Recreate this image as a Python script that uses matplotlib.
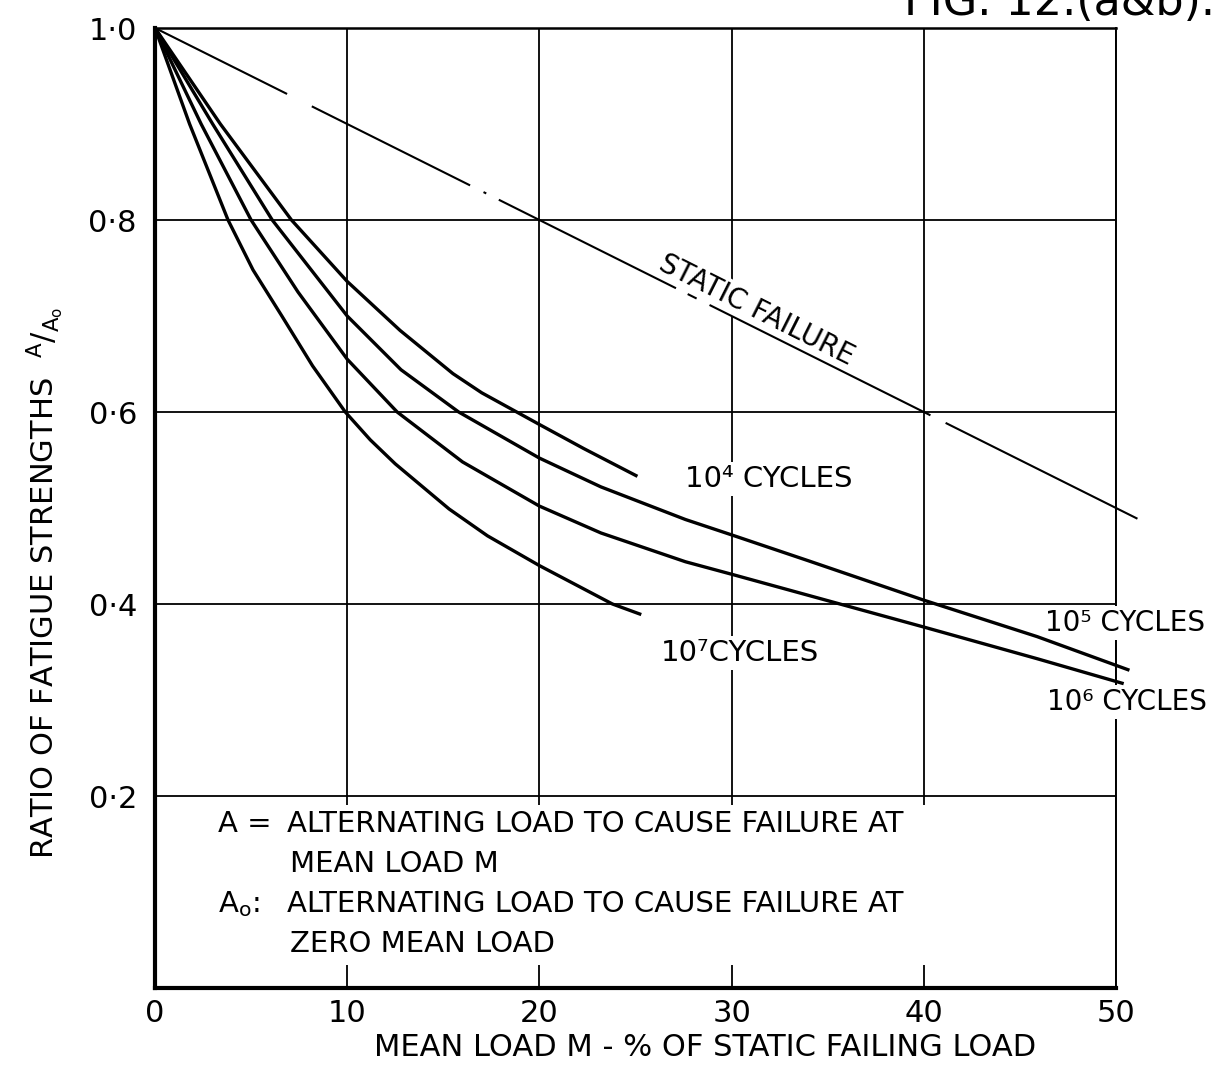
import matplotlib
matplotlib.use("Agg")
import matplotlib.pyplot as plt
from matplotlib.patches import Rectangle

plt.rcParams['font.family'] = ['DejaVu Sans']
plt.rcParams['mathtext.fontset'] = 'dejavusans'
plt.rcParams['lines.scale_dashes'] = False

# Mean load M (% of static failing load) against A/A0
static_x = [0, 51.25]
static_y = [1.0, 0.4875]

cyc4_x = [0, 3.4, 7.1, 10, 12.75, 15.5, 17, 20, 22.3, 25.1]
cyc4_y = [1.0, 0.9, 0.8, 0.736, 0.685, 0.64, 0.62, 0.587, 0.562, 0.533]

cyc5_x = [0, 3.0, 6.1, 10, 12.8, 15.8, 20, 23.2, 27.6, 30, 34, 40, 45.9, 50.7]
cyc5_y = [1.0, 0.9, 0.8, 0.70, 0.644, 0.6, 0.552, 0.522, 0.488, 0.472, 0.445, 0.404, 0.366, 0.331]

cyc6_x = [0, 2.4, 5.0, 7.44, 10, 12.6, 16, 20, 23.2, 27.6, 30, 34, 40, 45.9, 50.4]
cyc6_y = [1.0, 0.9, 0.8, 0.725, 0.655, 0.6, 0.548, 0.502, 0.474, 0.444, 0.431, 0.409, 0.376, 0.343, 0.317]

cyc7_x = [0, 1.8, 3.8, 5.1, 6.6, 8.2, 9.9, 11.2, 12.5, 15.3, 17.3, 20, 23.8, 25.3]
cyc7_y = [1.0, 0.9, 0.8, 0.748, 0.70, 0.648, 0.6, 0.571, 0.546, 0.499, 0.471, 0.44, 0.4, 0.389]

x_ticks = [0, 10, 20, 30, 40, 50]
x_labels = ['0', '10', '20', '30', '40', '50']
y_ticks = [0, 0.2, 0.4, 0.6, 0.8, 1.0]
y_labels = ['', '0·2', '0·4', '0·6', '0·8', '1·0']

fig = plt.figure(figsize=(12.29, 10.69), dpi=100)
ax = fig.add_axes([155 / 1229, 1 - 988 / 1069, 961 / 1229, 960 / 1069])

ax.set_xlim(0, 50)
ax.set_ylim(0, 1.0)
ax.set_xticks(x_ticks)
ax.set_xticklabels(x_labels, fontsize=22)
ax.set_yticks(y_ticks)
ax.set_yticklabels(y_labels, fontsize=22)
ax.tick_params(length=0)
ax.tick_params(axis='x', pad=8)
ax.tick_params(axis='y', pad=13)

ax.set_axisbelow(True)
ax.grid(True, color='black', lw=1.3)
ax.spines['left'].set_linewidth(3)
ax.spines['bottom'].set_linewidth(3)
ax.spines['top'].set_linewidth(1.8)
ax.spines['right'].set_linewidth(1.4)

# chain line for static failure
chain = (0, (106.3, 19.9, 127.4, 10.8, 2.2, 10.1, 142.6, 9.4, 7.2, 10.4,
             177.8, 12.2, 154.4, 400))
ax.plot(static_x, static_y, color='black', lw=1.5, linestyle=chain,
        clip_on=False, zorder=4)

for xs, ys in [(cyc4_x, cyc4_y), (cyc5_x, cyc5_y), (cyc6_x, cyc6_y), (cyc7_x, cyc7_y)]:
    ax.plot(xs, ys, color='black', lw=2.4, solid_capstyle='butt',
            solid_joinstyle='round', clip_on=False, zorder=4)

box = dict(facecolor='white', edgecolor='none', pad=2)
ax.text(31.3, 0.706, 'STATIC FAILURE', rotation=-26.7, rotation_mode='anchor',
        ha='center', va='center', fontsize=20, zorder=3, bbox=box)
ax.text(27.6, 0.530, '10⁴ CYCLES', ha='left', va='center', fontsize=21,
        zorder=3, bbox=box)
ax.text(26.3, 0.349, '10⁷CYCLES', ha='left', va='center', fontsize=21,
        zorder=3, bbox=box)
ax.text(46.3, 0.380, '10⁵ CYCLES', ha='left', va='center', fontsize=20,
        zorder=3, bbox=box, clip_on=False)
ax.text(46.4, 0.298, '10⁶ CYCLES', ha='left', va='center', fontsize=20,
        zorder=3, bbox=box, clip_on=False)

# key to the symbols
ax.add_patch(Rectangle((0.052, 0.024), 0.864, 0.167, transform=ax.transAxes,
                       facecolor='white', edgecolor='none', zorder=2))
key_size = 21
ax.text(3.28, 0.171, 'A =', ha='left', va='center', fontsize=key_size, zorder=3)
ax.text(6.87, 0.171, 'ALTERNATING LOAD TO CAUSE FAILURE AT', ha='left',
        va='center', fontsize=key_size, zorder=3)
ax.text(7.0, 0.129, 'MEAN LOAD M', ha='left', va='center', fontsize=key_size,
        zorder=3)
ax.text(3.28, 0.0875, r'$\mathrm{A_o}$:', ha='left', va='center',
        fontsize=key_size, zorder=3)
ax.text(6.87, 0.0875, 'ALTERNATING LOAD TO CAUSE FAILURE AT', ha='left',
        va='center', fontsize=key_size, zorder=3)
ax.text(7.0, 0.0458, 'ZERO MEAN LOAD', ha='left', va='center',
        fontsize=key_size, zorder=3)

ax.set_xlabel('MEAN LOAD M - % OF STATIC FAILING LOAD', fontsize=22,
              va='center', ha='center')
ax.xaxis.set_label_coords(0.572, -0.0615)
ax.set_ylabel(r'RATIO OF FATIGUE STRENGTHS  ${}^{\mathrm{A}}/{}_{\mathrm{A_o}}$',
              fontsize=22, va='center', ha='center')
ax.yaxis.set_label_coords(-0.1145, 0.422)

fig.text(1215 / 1229, 1 - 15 / 1069, 'FIG. 12.(a&b).', ha='right',
         va='baseline', fontsize=32)

fig.savefig('out.png', dpi=100)
